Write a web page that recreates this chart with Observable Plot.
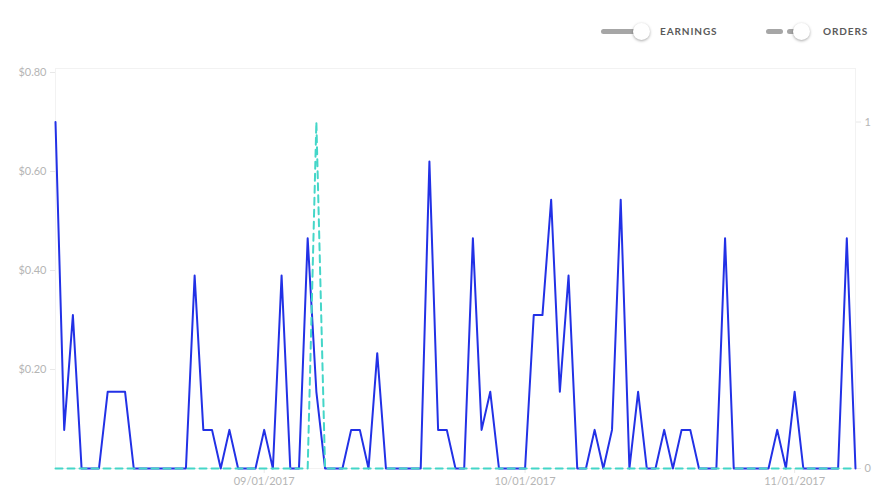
<!DOCTYPE html>
<html>
<head>
<meta charset="utf-8">
<script src="https://cdn.jsdelivr.net/npm/d3@7"></script>
<script src="https://cdn.jsdelivr.net/npm/@observablehq/plot@0.6"></script>
<style>
  html, body { margin: 0; padding: 0; background: #fff; }
  #wrap { position: relative; width: 889px; height: 503px; overflow: hidden; font-family: Lato, "Open Sans", sans-serif; }
  #chart { position: absolute; left: 0; top: 0; }
  .lg { position: absolute; top: 22px; height: 18px; display: flex; align-items: center; }
  .lg .txt { font-size: 10px; font-weight: 700; letter-spacing: 0.9px; color: #5a5a5a; margin-left: 10px; }
  .track { height: 5px; border-radius: 3px; background: #a6a6a6; }
  .knob { width: 17px; height: 17px; border-radius: 50%; background: #fff; box-shadow: 0 1px 3px rgba(0,0,0,0.35); margin-left: -8px; position: relative; }
</style>
</head>
<body>
<div id="wrap">
  <div id="chart"></div>
  <div class="lg" style="left:601px">
    <div class="track" style="width:40px"></div><div class="knob"></div><div class="txt">EARNINGS</div>
  </div>
  <div class="lg" style="left:766px">
    <div class="track" style="width:17px"></div><div class="track" style="width:14px;margin-left:4px"></div><div class="knob"></div><div class="txt" style="margin-left:13px">ORDERS</div>
  </div>
</div>
<script>
// Daily series, 2017-08-08 .. 2017-11-08
const startDate = "2017-08-08";
const endDate = "2017-11-08";
const earnings = [
  0.70, 0.078, 0.31, 0, 0, 0, 0.155, 0.155, 0.155, 0,
  0, 0, 0, 0, 0, 0, 0.39, 0.078, 0.078, 0,
  0.078, 0, 0, 0, 0.078, 0, 0.39, 0, 0, 0.465,
  0.155, 0, 0, 0, 0.078, 0.078, 0, 0.233, 0, 0,
  0, 0, 0, 0.62, 0.078, 0.078, 0, 0, 0.465, 0.078,
  0.155, 0, 0, 0, 0, 0.31, 0.31, 0.543, 0.155, 0.39,
  0, 0, 0.078, 0, 0.078, 0.543, 0, 0.155, 0, 0,
  0.078, 0, 0.078, 0.078, 0, 0, 0, 0.465, 0, 0,
  0, 0, 0, 0.078, 0, 0.155, 0, 0, 0, 0,
  0, 0.465, 0
];
const orders = [
  0, 0, 0, 0, 0, 0, 0, 0, 0, 0,
  0, 0, 0, 0, 0, 0, 0, 0, 0, 0,
  0, 0, 0, 0, 0, 0, 0, 0, 0, 0,
  1, 0, 0, 0, 0, 0, 0, 0, 0, 0,
  0, 0, 0, 0, 0, 0, 0, 0, 0, 0,
  0, 0, 0, 0, 0, 0, 0, 0, 0, 0,
  0, 0, 0, 0, 0, 0, 0, 0, 0, 0,
  0, 0, 0, 0, 0, 0, 0, 0, 0, 0,
  0, 0, 0, 0, 0, 0, 0, 0, 0, 0,
  0, 0, 0
];
const earningsTicks = [0.2, 0.4, 0.6, 0.8];
const orderTicks = [0, 1];
const dateTicks = ["2017-09-01", "2017-10-01", "2017-11-01"];

const dates = d3.utcDay.range(new Date(startDate), d3.utcDay.offset(new Date(endDate), 1));
const data = dates.map((d, i) => ({date: d, earnings: earnings[i], orders: orders[i]}));
const ratio = d3.max(earnings) / d3.max(orders);

const chart = Plot.plot({
  width: 889,
  height: 503,
  marginLeft: 55,
  marginRight: 34,
  marginTop: 68,
  marginBottom: 35,
  insetTop: 4,
  style: {fontFamily: "Lato, 'Open Sans', sans-serif", fontSize: "11px", background: "transparent", overflow: "visible"},
  x: {type: "utc", domain: [dates[0], dates[dates.length - 1]]},
  y: {domain: [0, 0.8]},
  marks: [
    Plot.frame({stroke: "#f2f2f2"}),
    Plot.axisY({ticks: earningsTicks, tickFormat: d => "$" + d.toFixed(2), tickSize: 5, tickPadding: 4, stroke: "#e8e8e8", fill: "#b5b5b5", label: null}),
    Plot.axisY({anchor: "right", ticks: orderTicks.map(v => v * ratio), tickFormat: d => String(Math.round(d / ratio)), tickSize: 5, tickPadding: 4, stroke: "#e8e8e8", fill: "#b5b5b5", label: null}),
    Plot.axisX({ticks: dateTicks.map(s => new Date(s)), tickFormat: d3.utcFormat("%m/%d/%Y"), tickSize: 5, tickPadding: 4, stroke: "#e8e8e8", fill: "#b5b5b5", label: null}),
    Plot.line(data, {x: "date", y: "earnings", stroke: "#2231e6", strokeWidth: 2}),
    Plot.line(data, {x: "date", y: d => d.orders * ratio, stroke: "#44d6c8", strokeWidth: 2, strokeDasharray: "7,5"})
  ]
});
document.getElementById("chart").appendChild(chart);
</script>
</body>
</html>
